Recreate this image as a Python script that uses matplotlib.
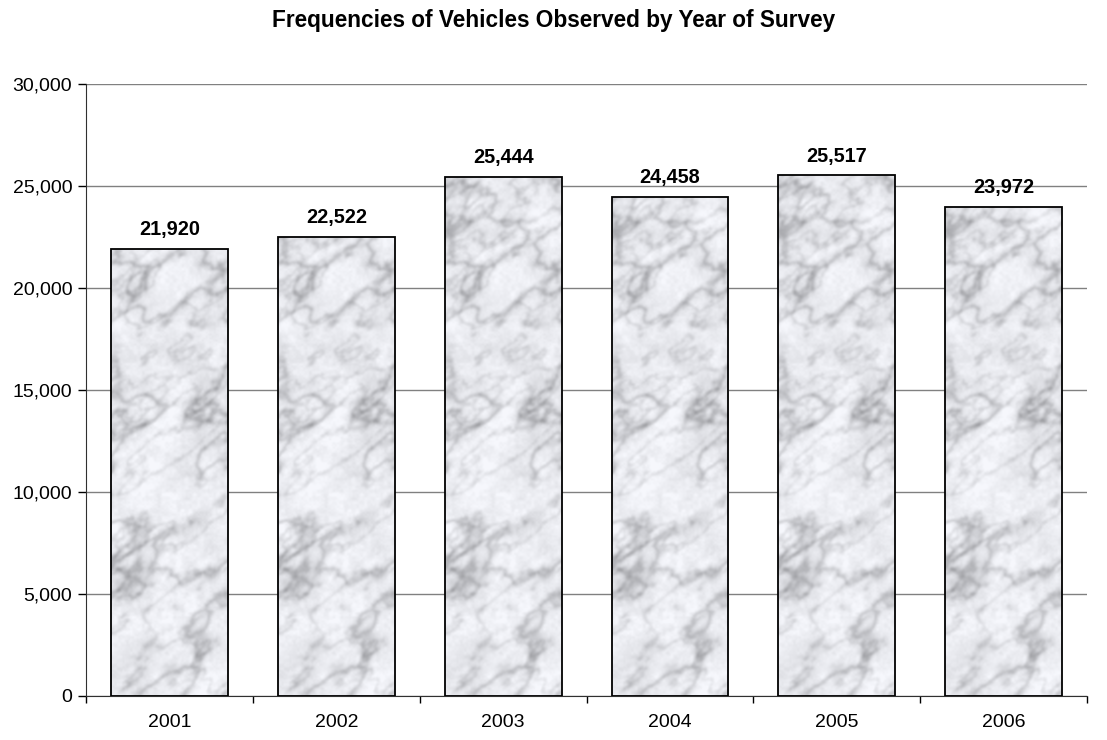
import matplotlib.pyplot as plt
import numpy as np
from matplotlib.ticker import FuncFormatter

plt.rcParams['font.family'] = ['Liberation Sans', 'DejaVu Sans']

years = ['2001', '2002', '2003', '2004', '2005', '2006']
vehicles = [21920, 22522, 25444, 24458, 25517, 23972]


def vnoise(u, v, g):
	# smooth value noise on a periodic grid
	n = g.shape[0]
	iu = np.floor(u).astype(int)
	iv = np.floor(v).astype(int)
	fu = u - iu
	fv = v - iv
	fu = fu * fu * (3 - 2 * fu)
	fv = fv * fv * (3 - 2 * fv)
	i0, i1 = iu % n, (iu + 1) % n
	j0, j1 = iv % n, (iv + 1) % n
	top = g[j0, i0] * (1 - fu) + g[j0, i1] * fu
	bot = g[j1, i0] * (1 - fu) + g[j1, i1] * fu
	return top * (1 - fv) + bot * fv


def fbm(u, v, rng, octaves=5):
	tot = np.zeros_like(u)
	amp, norm = 1.0, 0.0
	for k in range(octaves):
		g = rng.random((64, 64))
		tot += amp * vnoise(u * 2 ** k, v * 2 ** k, g)
		norm += amp
		amp *= 0.5
	return tot / norm


def blur(img, r=2):
	# simple box blur, applied twice
	k = np.ones(2 * r + 1) / (2 * r + 1)
	for _ in range(2):
		img = np.apply_along_axis(lambda m: np.convolve(np.pad(m, r, mode='edge'), k, 'valid'), 0, img)
		img = np.apply_along_axis(lambda m: np.convolve(np.pad(m, r, mode='edge'), k, 'valid'), 1, img)
	return img


def marble(h, w, seed=7):
	# white marble with soft grey diagonal veins
	rng = np.random.default_rng(seed)
	Y, X = np.mgrid[0:h, 0:w].astype(float)
	a = np.deg2rad(-38)
	u = (X * np.cos(a) + Y * np.sin(a)) / 70.0
	v = (-X * np.sin(a) + Y * np.cos(a)) / 40.0
	n1 = fbm(u, v, rng)
	n2 = fbm(u * 1.3 + 5, v * 1.6 + 3, rng)
	cloud = fbm(X / 30.0, Y / 30.0, rng, 4)
	fine = fbm(X / 4.0, Y / 4.0, rng, 2)
	r1 = 1 - np.abs(2 * (n1 - n1.mean()) / n1.std() * 0.25)
	r2 = 1 - np.abs(2 * (n2 - n2.mean()) / n2.std() * 0.25)
	vein = r1.clip(0, 1) ** 8 * 0.6 + r2.clip(0, 1) ** 12 * 0.4
	vein = blur(vein, 1)
	shade = 0.945 - vein * 0.38 - (cloud - cloud.mean()) * 0.16 - (fine - fine.mean()) * 0.06
	shade = shade.clip(0.5, 0.98)
	return np.dstack([shade * 0.985, shade * 0.99, shade * 1.0 + 0.01]).clip(0, 1)


tex = marble(620, 118)

fig = plt.figure(figsize=(11.07, 7.40), dpi=100)
ax = fig.add_axes([0.0777, 0.0595, 0.9043, 0.827])

x = np.arange(len(years))
bars = ax.bar(x, vehicles, width=0.7, facecolor='none', edgecolor='black', linewidth=1.3, zorder=3)
for b in bars:
	x0 = b.get_x()
	im = ax.imshow(tex, extent=(x0, x0 + b.get_width(), 0, 30000),
		aspect='auto', zorder=2, interpolation='bilinear')
	im.set_clip_path(b)

ax.set_xlim(-0.5, len(years) - 0.5)
ax.set_ylim(0, 30000)
ax.set_yticks(range(0, 30001, 5000))
ax.yaxis.set_major_formatter(FuncFormatter(lambda v, p: f'{int(v):,}'))
ax.yaxis.grid(True, color='#808080', linewidth=1.0, zorder=1)
ax.set_axisbelow(True)

ax.set_xticks(x)
ax.set_xticklabels(years)
ax.set_xticks(np.arange(-0.5, len(years)), minor=True)
ax.tick_params(axis='x', which='major', length=0, pad=13, labelsize=14)
ax.tick_params(axis='x', which='minor', length=5, width=1, direction='out')
ax.tick_params(axis='y', length=6, width=1, direction='out', labelsize=14, pad=4)

for s in ['top', 'right']:
	ax.spines[s].set_visible(False)
ax.spines['left'].set_color('#303030')
ax.spines['bottom'].set_color('#303030')

for b, v in zip(bars, vehicles):
	ax.annotate(f'{v:,}', (b.get_x() + b.get_width() / 2, v), xytext=(0, 7),
		textcoords='offset points', ha='center', va='bottom', fontsize=14.3, fontweight='bold')

fig.text(0.5, 0.972, 'Frequencies of Vehicles Observed by Year of Survey', ha='center', va='center',
	fontsize=16.3, fontweight='bold')

plt.savefig('out.png', dpi=100)
